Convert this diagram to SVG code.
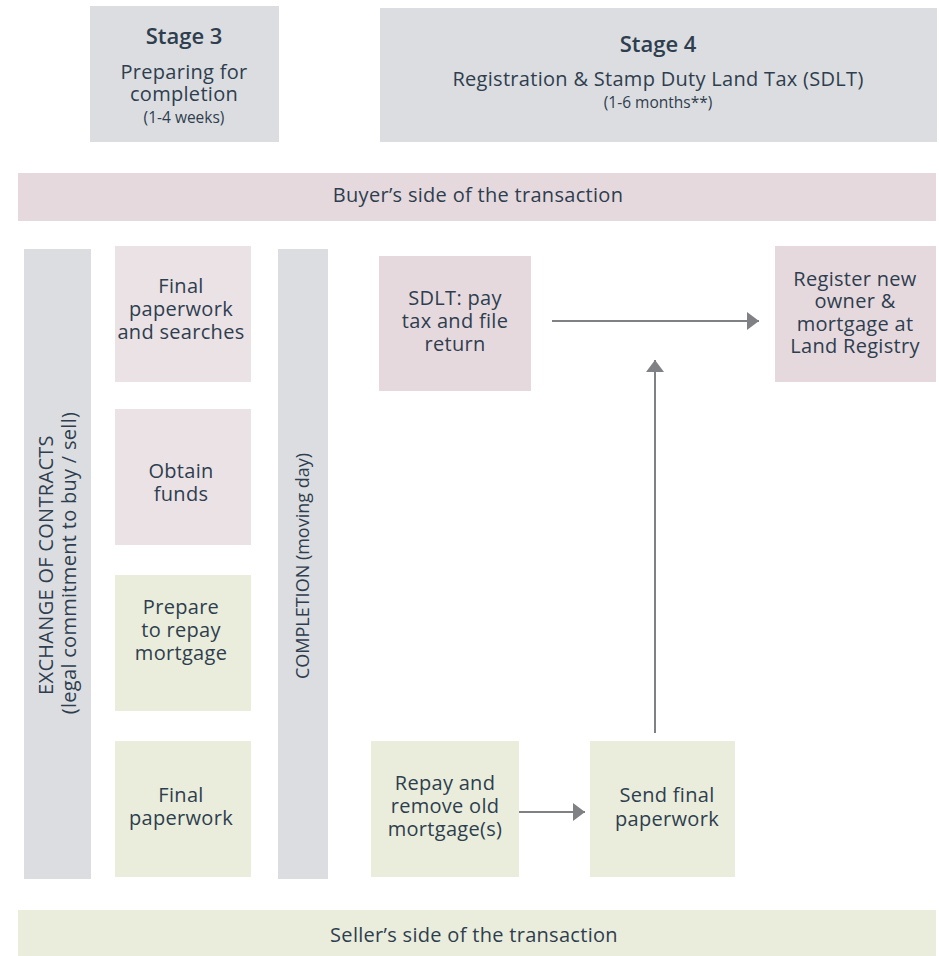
<svg xmlns="http://www.w3.org/2000/svg" width="939" height="956" viewBox="0 0 939 956">
  <style>
    text { font-family: "Open Sans", "Noto Sans", "Liberation Sans", sans-serif; fill: #2e3e4f; text-anchor: middle; }
    .t { font-size: 20px; letter-spacing: 0.3px; }
    .h { font-size: 22px; font-weight: 600; }
    .s { font-size: 15.5px; }
    .gray { fill: #dcdde0; }
    .band-pink { fill: #e6d9de; }
    .pink { fill: #ebe2e6; }
    .pink2 { fill: #e6d9de; }
    .green { fill: #eaeddb; }
    .conn { stroke: #808185; stroke-width: 2; fill: none; }
  </style>
  <defs>
    <marker id="arrow" viewBox="0 0 12 18" refX="12" refY="9" markerWidth="12" markerHeight="18" markerUnits="userSpaceOnUse" orient="auto">
      <path d="M0,0 L12,9 L0,18 z" fill="#808185"/>
    </marker>
  </defs>

  <rect width="939" height="956" fill="#ffffff"/>

  <g id="stage3">
    <rect class="gray" x="90" y="6" width="189" height="136"/>
    <text class="h" x="184" y="44">Stage 3</text>
    <text class="t" x="184" y="79">Preparing for</text>
    <text class="t" x="184" y="101">completion</text>
    <text class="s" x="184" y="123">(1-4 weeks)</text>
  </g>

  <g id="stage4">
    <rect class="gray" x="380" y="8" width="557" height="134"/>
    <text class="h" x="658" y="52">Stage 4</text>
    <text class="t" x="658" y="86">Registration &amp; Stamp Duty Land Tax (SDLT)</text>
    <text class="s" x="658" y="108">(1-6 months**)</text>
  </g>

  <g id="buyer-band">
    <rect class="band-pink" x="18" y="173" width="918" height="48"/>
    <text class="t" x="478" y="202">Buyer’s side of the transaction</text>
  </g>

  <g id="exchange">
    <rect class="gray" x="24" y="249" width="67" height="630"/>
    <text class="t" transform="translate(53,565) rotate(-90)">EXCHANGE OF CONTRACTS</text>
    <text class="t" transform="translate(76,563) rotate(-90)">(legal commitment to buy / sell)</text>
  </g>

  <g id="completion">
    <rect class="gray" x="278" y="249" width="50" height="630"/>
    <text transform="translate(309,566) rotate(-90)" font-size="18">COMPLETION (moving day)</text>
  </g>

  <g id="final-paperwork-searches">
    <rect class="pink" x="115" y="246" width="136" height="136"/>
    <text class="t" x="181" y="293">Final</text>
    <text class="t" x="181" y="316">paperwork</text>
    <text class="t" x="181" y="339">and searches</text>
  </g>

  <g id="obtain-funds">
    <rect class="pink" x="115" y="409" width="136" height="136"/>
    <text class="t" x="181" y="478">Obtain</text>
    <text class="t" x="181" y="501">funds</text>
  </g>

  <g id="prepare-repay">
    <rect class="green" x="115" y="575" width="136" height="136"/>
    <text class="t" x="181" y="614">Prepare</text>
    <text class="t" x="181" y="637">to repay</text>
    <text class="t" x="181" y="660">mortgage</text>
  </g>

  <g id="final-paperwork">
    <rect class="green" x="115" y="741" width="136" height="136"/>
    <text class="t" x="181" y="802">Final</text>
    <text class="t" x="181" y="825">paperwork</text>
  </g>

  <g id="sdlt">
    <rect class="pink2" x="379" y="256" width="152" height="135"/>
    <text class="t" x="455" y="305">SDLT: pay</text>
    <text class="t" x="455" y="328">tax and file</text>
    <text class="t" x="455" y="351">return</text>
  </g>

  <g id="register">
    <rect class="pink2" x="775" y="246" width="161" height="136"/>
    <text class="t" x="855" y="286">Register new</text>
    <text class="t" x="855" y="308">owner &amp;</text>
    <text class="t" x="855" y="331">mortgage at</text>
    <text class="t" x="855" y="353">Land Registry</text>
  </g>

  <g id="repay">
    <rect class="green" x="371" y="741" width="148" height="136"/>
    <text class="t" x="445" y="790">Repay and</text>
    <text class="t" x="445" y="813">remove old</text>
    <text class="t" x="445" y="836">mortgage(s)</text>
  </g>

  <g id="send-final">
    <rect class="green" x="590" y="741" width="145" height="136"/>
    <text class="t" x="667" y="802">Send final</text>
    <text class="t" x="667" y="826">paperwork</text>
  </g>

  <g id="seller-band">
    <rect class="green" x="18" y="910" width="918" height="46"/>
    <text class="t" x="474" y="942">Seller’s side of the transaction</text>
  </g>

  <g id="connectors">
    <path class="conn" d="M552,321 H759" marker-end="url(#arrow)"/>
    <path class="conn" d="M655,733 V360" marker-end="url(#arrow)"/>
    <path class="conn" d="M519,812 H585" marker-end="url(#arrow)"/>
  </g>
</svg>
